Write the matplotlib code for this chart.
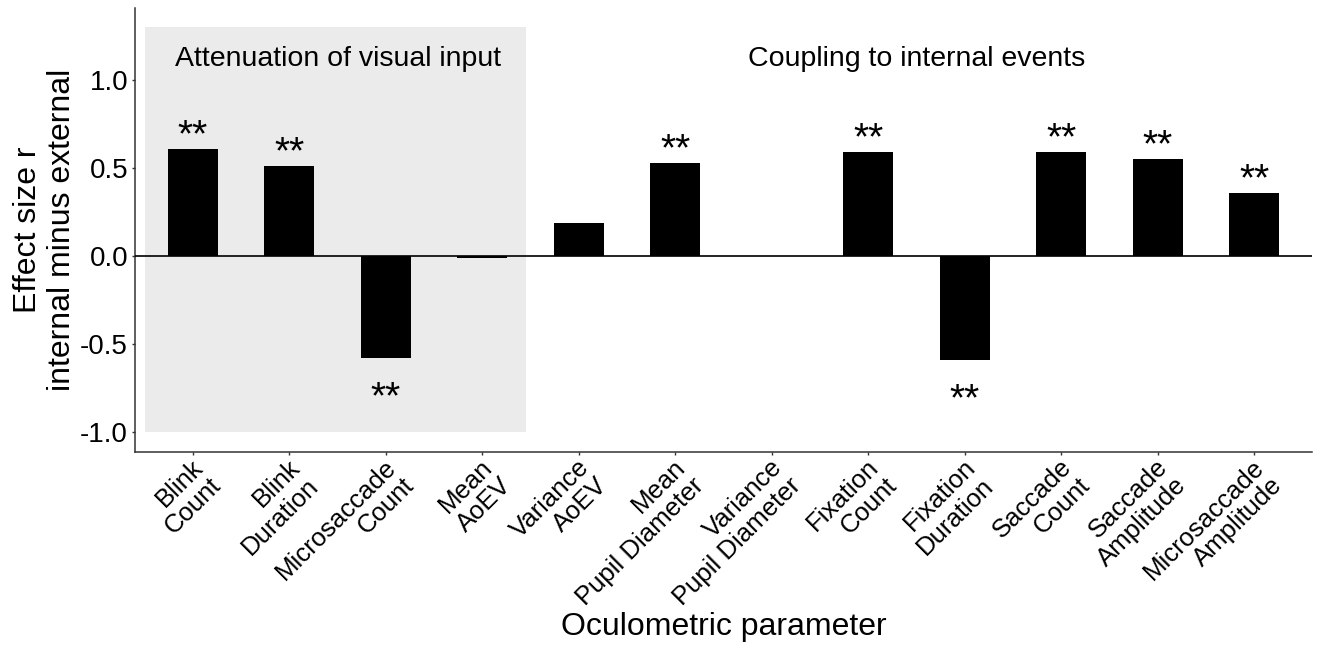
import matplotlib
matplotlib.use("Agg")
import matplotlib.pyplot as plt
from matplotlib.patches import Rectangle
from matplotlib.transforms import ScaledTranslation

plt.rcParams['font.family'] = ['Liberation Sans', 'DejaVu Sans']

categories = ["Blink\nCount", "Blink\nDuration", "Microsaccade\nCount", "Mean\nAoEV",
              "Variance\nAoEV", "Mean\nPupil Diameter", "Variance\nPupil Diameter",
              "Fixation\nCount", "Fixation\nDuration", "Saccade\nCount",
              "Saccade\nAmplitude", "Microsaccade\nAmplitude"]
values = [0.61, 0.51, -0.58, -0.01, 0.19, 0.53, 0.0, 0.59, -0.59, 0.59, 0.55, 0.36]
signif = ["**", "**", "**", "", "", "**", "", "**", "**", "**", "**", "**"]
group_labels = ["Attenuation of visual input", "Coupling to internal events"]
yticks = [-1.0, -0.5, 0.0, 0.5, 1.0]

fig = plt.figure(figsize=(13.24, 6.59), dpi=100)
ax = fig.add_axes([0.102, 0.314, 0.889, 0.674])

x = list(range(1, len(categories) + 1))
ax.add_patch(Rectangle((0.5, -1.0), 3.95, 2.3, facecolor='#ebebeb', edgecolor='none', zorder=0))
ax.bar(x, values, width=0.52, color='black', zorder=2)
ax.axhline(0, color='black', lw=1.2, zorder=3)

for xi, v, s in zip(x, values, signif):
    if s:
        yy = v + 0.14 - 0.125 if v > 0 else v - 0.16 - 0.125
        ax.text(xi, yy, s, ha='center', va='baseline', fontsize=28, zorder=4)

ax.text(2.5, 1.12, group_labels[0], ha='center', va='center', fontsize=20.5)
ax.text(8.5, 1.12, group_labels[1], ha='center', va='center', fontsize=20.5)

ax.set_xlim(0.4, 12.6)
ax.set_ylim(-1.114, 1.409)
ax.set_xticks(x)
ax.set_xticklabels([])
off = ScaledTranslation(-0.02, -0.03, fig.dpi_scale_trans)
for xi, lab in zip(x, categories):
    ax.text(xi, 0, lab, transform=ax.get_xaxis_transform() + off,
            rotation=45, rotation_mode='anchor', ha='right', va='top',
            multialignment='right', fontsize=18.5, linespacing=1.1)
ax.set_yticks(yticks)
ax.set_yticklabels([f"{t:.1f}" for t in yticks], fontsize=20)
ax.tick_params(axis='both', direction='out', length=2.5, width=1, color='#333333', pad=2.5)
for sp in ['top', 'right']:
    ax.spines[sp].set_visible(False)
for sp in ['left', 'bottom']:
    ax.spines[sp].set_color('#333333')
    ax.spines[sp].set_linewidth(1.1)

ax.set_ylabel("Effect size r\ninternal minus external", fontsize=23, labelpad=2)
ax.set_xlabel("Oculometric parameter", fontsize=23)
ax.xaxis.set_label_coords(0.5, -0.36)

fig.savefig("out.png", dpi=100)
